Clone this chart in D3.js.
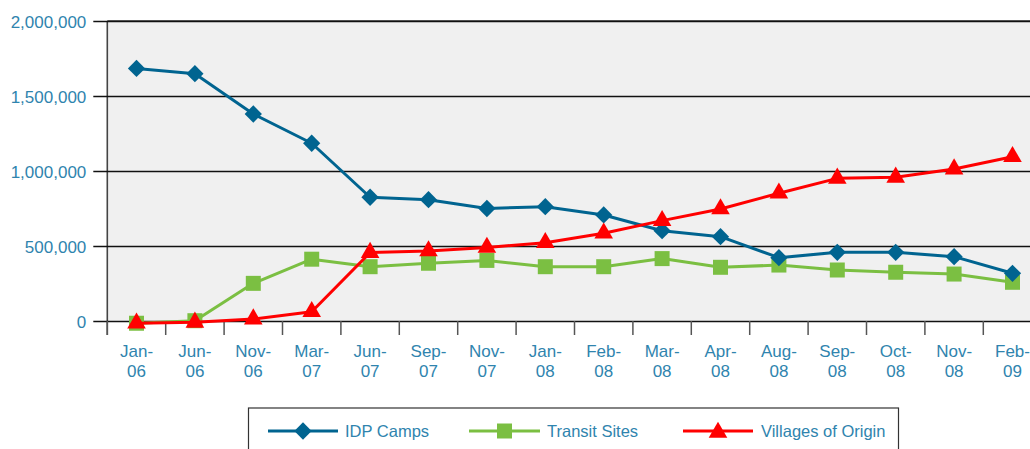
<!DOCTYPE html>
<html>
<head>
<meta charset="utf-8">
<script src="https://cdn.jsdelivr.net/npm/d3@7/dist/d3.min.js"></script>
<style>
  html, body { margin: 0; padding: 0; background: #ffffff; overflow: hidden; }
  svg { display: block; font-family: "Liberation Sans", Arial, Helvetica, sans-serif; }
</style>
</head>
<body>
<svg id="chart" width="1030" height="449"></svg>
<script>
const categories = ["Jan-06","Jun-06","Nov-06","Mar-07","Jun-07","Sep-07","Nov-07","Jan-08","Feb-08","Mar-08","Apr-08","Aug-08","Sep-08","Oct-08","Nov-08","Feb-09"];
const idpCamps = [1684000,1649000,1380000,1185000,825000,809000,750000,762000,707000,602000,562000,422000,458000,458000,429000,318000];
const transitSites = [-15000,2000,251000,412000,362000,385000,404000,362000,362000,416000,358000,373000,340000,325000,313000,258000];
const villagesOfOrigin = [-15000,-9000,13000,62000,456000,467000,490000,522000,585000,669000,747000,852000,951000,958000,1013000,1095000];
const yTicks = [0,500000,1000000,1500000,2000000];
const seriesNames = ["IDP Camps","Transit Sites","Villages of Origin"];

const textColor = "#2f84ae";
const colors = ["#006490", "#7bbf42", "#ff0000"];
const symbols = [d3.symbolDiamond2, d3.symbolSquare, d3.symbolTriangle];
const symbolSizes = [190, 225, 150];

const svg = d3.select("#chart");
const plotL = 107.3, plotR = 1041.7, plotT = 21, plotB = 321;

const x = d3.scaleBand().domain(categories).range([plotL, plotR]).padding(0);
const y = d3.scaleLinear().domain([0, 2000000]).range([plotB, plotT]);

// plot background
svg.append("rect")
  .attr("x", plotL).attr("y", plotT)
  .attr("width", plotR - plotL).attr("height", plotB - plotT)
  .attr("fill", "#f0f0f0");

// top and left border
svg.append("line").attr("x1", plotL).attr("x2", plotR).attr("y1", plotT).attr("y2", plotT)
  .attr("stroke", "#333").attr("stroke-width", 1.3);
svg.append("line").attr("x1", plotL).attr("x2", plotL).attr("y1", plotT).attr("y2", plotB + 14)
  .attr("stroke", "#444").attr("stroke-width", 1.6);

// y axis with gridlines
const yAxis = d3.axisLeft(y)
  .tickValues(yTicks)
  .tickSize(-(plotR - plotL + 14))
  .tickPadding(7)
  .tickFormat(d3.format(","));
const gy = svg.append("g").attr("transform", `translate(${plotL - 14},0)`).call(yAxis);
gy.select(".domain").remove();
gy.selectAll(".tick line").attr("stroke", "#111").attr("stroke-width", 1.4);
gy.selectAll(".tick text")
  .attr("fill", textColor)
  .style("font-size", "17px")
  .attr("dy", "0.36em");

// x axis: boundary ticks
const bounds = categories.map(c => x(c)).concat([x(categories[categories.length - 1]) + x.bandwidth()]);
svg.append("g").selectAll("line").data(bounds).join("line")
  .attr("x1", d => d).attr("x2", d => d)
  .attr("y1", plotB).attr("y2", plotB + 14)
  .attr("stroke", "#555").attr("stroke-width", 1.5);

// x labels
const xAxis = d3.axisBottom(x).tickSize(0).tickPadding(0).tickFormat("");
const gx = svg.append("g").attr("transform", `translate(0,${plotB})`).call(xAxis);
gx.select(".domain").remove();
gx.selectAll(".tick").each(function(d) {
  const parts = d.split("-");
  const t = d3.select(this).append("text")
    .attr("fill", textColor)
    .attr("text-anchor", "middle")
    .style("font-size", "17px");
  t.append("tspan").attr("x", 0).attr("y", 36).text(parts[0] + "-");
  t.append("tspan").attr("x", 0).attr("y", 55.5).text(parts[1]);
});

// series
const allSeries = [idpCamps, transitSites, villagesOfOrigin];
const line = d3.line().x((d, i) => x(categories[i]) + x.bandwidth() / 2).y(d => y(d));

const drawOrder = [1, 2, 0];
// lines first for green and red, then blue on top? draw each series line+markers in order
[1, 0, 2].forEach(si => {
  const vals = allSeries[si];
  svg.append("path")
    .datum(vals)
    .attr("d", line)
    .attr("fill", "none")
    .attr("stroke", colors[si])
    .attr("stroke-width", 3)
    .attr("stroke-linejoin", "round");
  svg.append("g").selectAll("path").data(vals).join("path")
    .attr("transform", (d, i) => `translate(${x(categories[i]) + x.bandwidth() / 2},${y(d)})`)
    .attr("d", d3.symbol().type(symbols[si]).size(symbolSizes[si]))
    .attr("fill", colors[si]);
});

// legend
const legend = svg.append("g");
legend.append("rect")
  .attr("x", 248.5).attr("y", 408)
  .attr("width", 650).attr("height", 60)
  .attr("fill", "#ffffff").attr("stroke", "#333").attr("stroke-width", 1.2);
const legendItems = [
  {lx1: 268, lx2: 338, tx: 345},
  {lx1: 469, lx2: 540, tx: 547},
  {lx1: 683, lx2: 753, tx: 761}
];
const ly = 431;
seriesNames.forEach((name, si) => {
  const it = legendItems[si];
  legend.append("line")
    .attr("x1", it.lx1).attr("x2", it.lx2).attr("y1", ly).attr("y2", ly)
    .attr("stroke", colors[si]).attr("stroke-width", 3);
  legend.append("path")
    .attr("transform", `translate(${(it.lx1 + it.lx2) / 2},${ly + (si === 2 ? 1.5 : 0)})`)
    .attr("d", d3.symbol().type(symbols[si]).size(symbolSizes[si]))
    .attr("fill", colors[si]);
  legend.append("text")
    .attr("x", it.tx).attr("y", ly)
    .attr("dy", "0.36em")
    .attr("fill", textColor)
    .style("font-size", "16.5px")
    .text(name);
});
</script>
</body>
</html>
